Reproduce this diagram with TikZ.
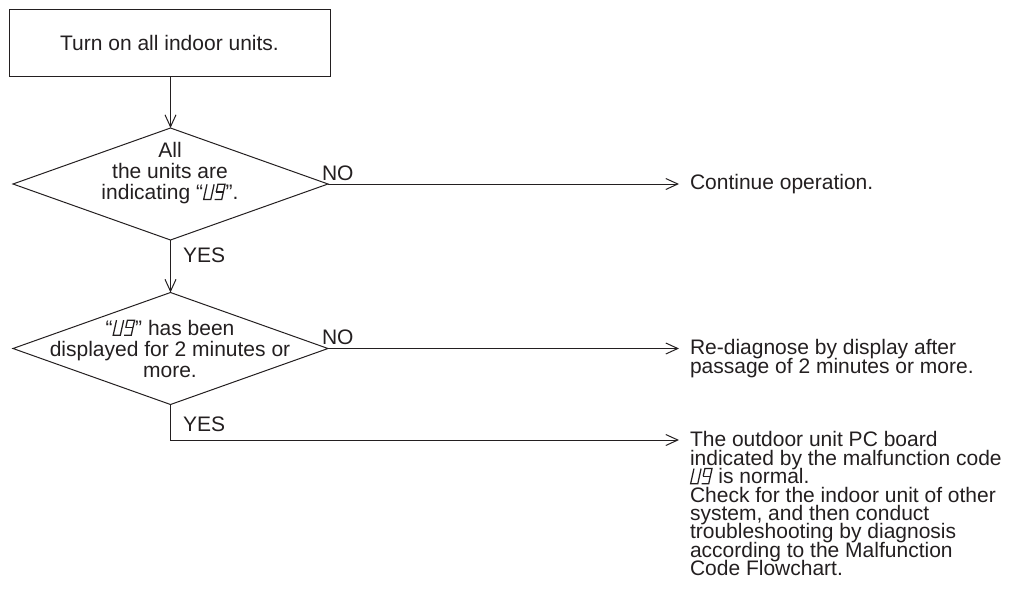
\documentclass[tikz,border=0pt]{standalone}
\usepackage{fontspec}
\setmainfont{Liberation Sans}
\usetikzlibrary{shapes.geometric,arrows.meta}
\definecolor{ink}{HTML}{231F20}
\newcommand\tightls{\lineskiplimit=-20pt\relax}
\newcommand\segUnine{\tikz[baseline=0pt,x=1em,y=1em,line width=0.06em,xslant=0.22,line cap=butt,line join=miter,ink]{%
  \draw (0,0.72)--(0,0)--(0.34,0)--(0.34,0.72);
  \draw (0.52,0.36)--(0.52,0.72)--(0.86,0.72)--(0.86,0)--(0.52,0);
  \draw (0.52,0.36)--(0.86,0.36);}}
\begin{document}
\begin{tikzpicture}[x=0.5pt,y=-0.5pt,
  every node/.style={inner sep=0pt,outer sep=0pt,text=ink,font=\fontsize{10.5pt}{10.5pt}\selectfont},
  line/.style={draw=ink,line width=0.5pt},
  arr/.style={line,-{Straight Barb[length=6pt,width=5.5pt,line width=0.5pt]}},
  stepbox/.style={draw=ink,line width=0.5pt,rectangle,minimum width=160.5pt,minimum height=33.5pt},
  decision/.style={draw=ink,line width=0.5pt,diamond,minimum width=157.5pt,minimum height=56pt},
  dtext/.style={align=center,font={\fontsize{10.5pt}{10.5pt}\selectfont\tightls}},
  rtext/.style={anchor=north west,align=left,font={\fontsize{10.5pt}{9.2pt}\selectfont\tightls}},
  lbl/.style={anchor=base west}]
\useasboundingbox (0,0) rectangle (1019,601);

\node[stepbox] (start) at (169.5,42.5) {Turn on all indoor units.};

\node[decision] (d1) at (170.5,184) {};
\node[dtext] (t1) at (170,173) {All\\the units are\\indicating “\segUnine”.};

\node[decision] (d2) at (170.5,348.5) {};
\node[dtext] (t2) at (170,348.5) {“\segUnine” has been\\displayed for 2 minutes or\\more.};

\node[rtext] (c1) at (690,174.7) {Continue operation.};
\node[rtext] (c2) at (690,339.7) {Re-diagnose by display after\\passage of 2 minutes or more.};
\node[rtext] (c3) at (690,431.7) {The outdoor unit PC board\\indicated by the malfunction code\\\segUnine{} is normal.\\Check for the indoor unit of other\\system, and then conduct\\troubleshooting by diagnosis\\according to the Malfunction\\Code Flowchart.};

\node[lbl] (no1) at (322,180) {NO};
\node[lbl] (yes1) at (183,262) {YES};
\node[lbl] (no2) at (322,344) {NO};
\node[lbl] (yes2) at (183,431) {YES};

\coordinate (a1) at (679,184);
\coordinate (a2) at (679,348.5);
\coordinate (a3) at (679,440);

\draw[arr] (start.south -| d1.north) -- (d1.north);
\draw[arr] (d1.east) -- (a1);
\draw[arr] (d1.south) -- (d2.north);
\draw[arr] (d2.east) -- (a2);
\draw[arr] (d2.south) |- (a3);
\end{tikzpicture}
\end{document}
